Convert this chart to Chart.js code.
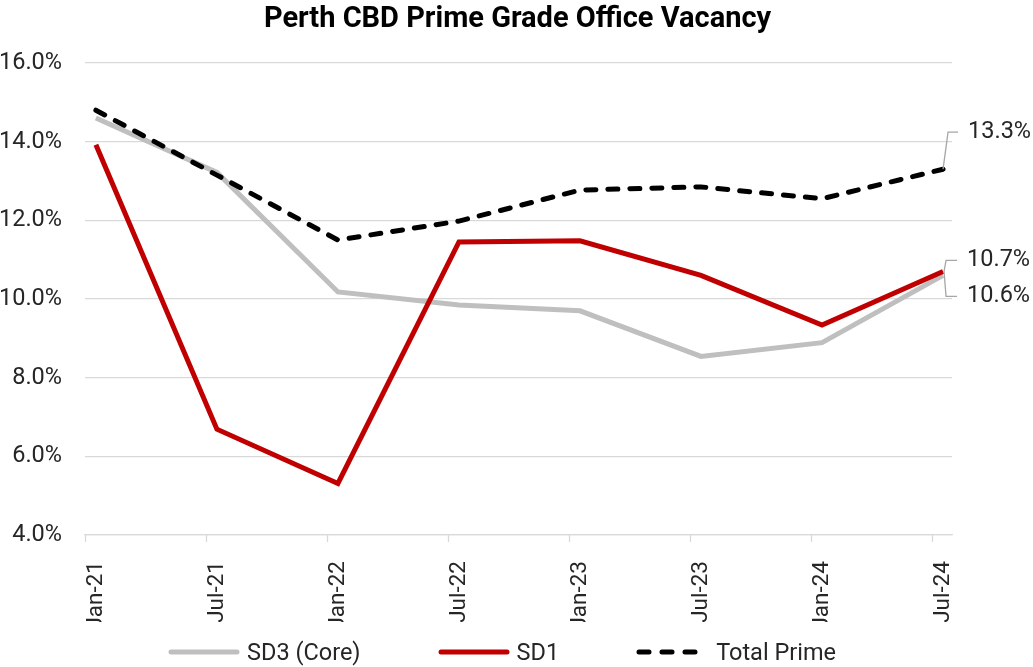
<!DOCTYPE html>
<html>
<head>
<meta charset="utf-8">
<title>Perth CBD Prime Grade Office Vacancy</title>
<script src="https://cdn.jsdelivr.net/npm/chart.js@4.4.1/dist/chart.umd.min.js"></script>
<style>
  body { margin: 0; background: #fff; }
  #wrap { position: relative; width: 1033px; height: 667px; }
  #title {
    position: absolute; left: 0; right: 0; top: 0; height: 35px; line-height: 35px;
    text-align: center; font: bold 29px Roboto, sans-serif; color: #000;
    padding-left: 2px;
  }
  #legend {
    position: absolute; left: 168px; top: 637px; height: 30px;
    display: flex; align-items: center;
    font: 23.5px Roboto, sans-serif; color: #262626;
  }
  .item { display: flex; align-items: center; margin-right: 77px; }
  .item svg { margin-right: 7px; }
</style>
</head>
<body>
<div id="wrap">
  <canvas id="vacancyChart" width="1033" height="667"></canvas>
  <div id="title">Perth CBD Prime Grade Office Vacancy</div>
  <div id="legend"></div>
</div>
<script>
const labels = ['Jan-21', 'Jul-21', 'Jan-22', 'Jul-22', 'Jan-23', 'Jul-23', 'Jan-24', 'Jul-24'];
const sd3Core = [14.6, 13.22, 10.18, 9.85, 9.7, 8.54, 8.89, 10.6];
const sd1 = [13.92, 6.69, 5.31, 11.45, 11.48, 10.6, 9.34, 10.7];
const totalPrime = [14.8, 13.15, 11.5, 11.98, 12.77, 12.85, 12.55, 13.3];
const yTicks = [4, 6, 8, 10, 12, 14, 16];

const textColor = '#262626';
const gridColor = '#d9d9d9';
const fontSize = 23.5;

function toPoints(values) {
  return values.map((v, i) => ({ x: i, y: v }));
}

// small tick marks under the axis, sitting just left of each point
const axisTicks = {
  id: 'axisTicks',
  afterDraw(chart) {
    const ctx = chart.ctx;
    const xScale = chart.scales.x;
    const bottom = chart.chartArea.bottom;
    ctx.save();
    ctx.strokeStyle = gridColor;
    ctx.lineWidth = 1.3;
    labels.forEach((_, i) => {
      const px = Math.round(xScale.getPixelForValue(i - 0.09)) + 0.5;
      ctx.beginPath();
      ctx.moveTo(px, bottom);
      ctx.lineTo(px, bottom + 7);
      ctx.stroke();
    });
    ctx.restore();
  }
};

// last-point labels with leader lines
const endLabels = {
  id: 'endLabels',
  afterDatasetsDraw(chart) {
    const ctx = chart.ctx;
    const last = labels.length - 1;
    const pSd3 = chart.getDatasetMeta(0).data[last];
    const pSd1 = chart.getDatasetMeta(1).data[last];
    const pTotal = chart.getDatasetMeta(2).data[last];

    ctx.save();
    ctx.strokeStyle = '#a6a6a6';
    ctx.lineWidth = 1.3;

    const tY = pTotal.y - 37;
    ctx.beginPath();
    ctx.moveTo(pTotal.x, pTotal.y);
    ctx.lineTo(pTotal.x + 5, tY);
    ctx.lineTo(pTotal.x + 15, tY);
    ctx.stroke();

    const top = pSd1.y - 11;
    const bottom = pSd3.y + 21;
    ctx.beginPath();
    ctx.moveTo(pSd1.x + 14, top);
    ctx.lineTo(pSd1.x + 3, top);
    ctx.lineTo(pSd1.x + 1, pSd1.y);
    ctx.lineTo(pSd1.x + 3, bottom);
    ctx.lineTo(pSd1.x + 14, bottom);
    ctx.stroke();

    ctx.fillStyle = textColor;
    ctx.font = fontSize + 'px Roboto';
    ctx.textAlign = 'left';
    ctx.textBaseline = 'middle';
    ctx.fillText(totalPrime[last].toFixed(1) + '%', pTotal.x + 25, tY);
    ctx.fillText(sd1[last].toFixed(1) + '%', pSd1.x + 24, top);
    ctx.fillText(sd3Core[last].toFixed(1) + '%', pSd3.x + 24, bottom);
    ctx.restore();
  }
};

const chart = new Chart(document.getElementById('vacancyChart'), {
  type: 'line',
  data: {
    datasets: [
      {
        label: 'SD3 (Core)',
        data: toPoints(sd3Core),
        borderColor: '#bfbfbf',
        borderWidth: 5,
        order: 2
      },
      {
        label: 'SD1',
        data: toPoints(sd1),
        borderColor: '#c00000',
        borderWidth: 5,
        order: 1
      },
      {
        label: 'Total Prime',
        data: toPoints(totalPrime),
        borderColor: '#000000',
        borderWidth: 5,
        borderDash: [10, 12],
        borderCapStyle: 'round',
        order: 0
      }
    ]
  },
  options: {
    responsive: false,
    animation: false,
    elements: {
      point: { radius: 0, hoverRadius: 0 },
      line: { tension: 0, fill: false }
    },
    layout: { padding: { top: 63, right: 81, bottom: 45, left: 0 } },
    plugins: {
      legend: { display: false },
      tooltip: { enabled: false },
      title: { display: false }
    },
    scales: {
      x: {
        type: 'linear',
        min: -0.09,
        max: 7.074,
        afterBuildTicks: scale => {
          scale.ticks = labels.map((_, i) => ({ value: i }));
        },
        afterFit: scale => { scale.height = 87; },
        grid: { display: false },
        border: { color: gridColor, width: 1.3 },
        ticks: {
          autoSkip: false,
          minRotation: 90,
          maxRotation: 90,
          padding: 18,
          color: textColor,
          font: { family: 'Roboto', size: 22.5 },
          callback: v => labels[v]
        }
      },
      y: {
        min: 4,
        max: 16,
        afterBuildTicks: scale => {
          scale.ticks = yTicks.map(v => ({ value: v }));
        },
        afterFit: scale => { scale.width = 85; },
        grid: { color: gridColor, lineWidth: 1.3, drawTicks: false },
        border: { display: false },
        ticks: {
          padding: 23,
          color: textColor,
          font: { family: 'Roboto', size: fontSize },
          callback: v => v.toFixed(1) + '%'
        }
      }
    }
  },
  plugins: [axisTicks, endLabels]
});

// HTML legend built from the datasets
const legendEl = document.getElementById('legend');
chart.data.datasets.forEach(ds => {
  const item = document.createElement('div');
  item.className = 'item';
  const dashed = ds.borderDash ? 'stroke-dasharray="10 13"' : '';
  const w = ds.borderDash ? 66 : 72;
  item.innerHTML = `
    <svg width="${w}" height="10">
      <line x1="3" y1="5" x2="${w - 3}" y2="5" stroke="${ds.borderColor}" stroke-width="5"
        stroke-linecap="round" ${dashed}/>
    </svg>
    <span>${ds.label}</span>`;
  if (ds.borderDash) item.querySelector('svg').style.marginRight = '14px';
  legendEl.appendChild(item);
});
</script>
</body>
</html>
